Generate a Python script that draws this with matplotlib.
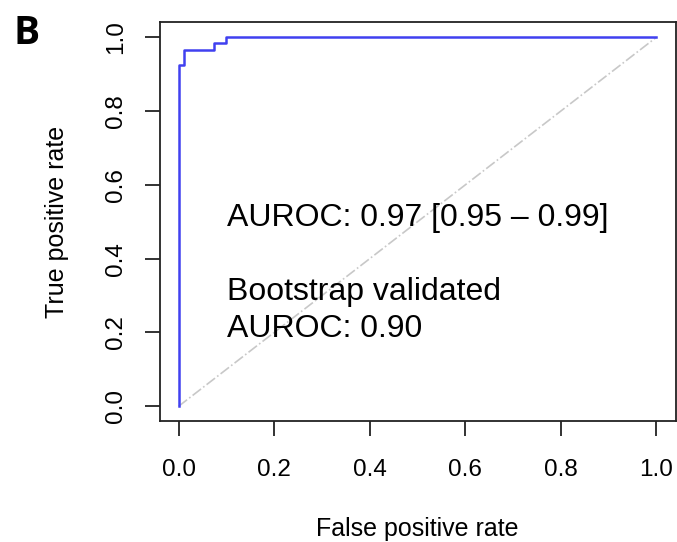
import matplotlib
matplotlib.use("Agg")
import matplotlib.pyplot as plt

plt.rcParams['font.family'] = ['Liberation Sans', 'DejaVu Sans']

# puntos de la curva ROC
fpr = [0.0, 0.0, 0.012, 0.012, 0.075, 0.075, 0.10, 0.10, 1.0]
tpr = [0.0, 0.926, 0.926, 0.965, 0.965, 0.984, 0.984, 1.0, 1.0]
# diagonal de referencia
diag_x = [0.0, 1.0]
diag_y = [0.0, 1.0]
ticks = [0.0, 0.2, 0.4, 0.6, 0.8, 1.0]
tick_labels = ["0.0", "0.2", "0.4", "0.6", "0.8", "1.0"]

fig = plt.figure(figsize=(6.77, 5.42), dpi=100)
ax = fig.add_axes([0.2356, 0.2232, 0.7622, 0.7353])

ax.plot(diag_x, diag_y, color="#c8c8c8", linestyle="-.", linewidth=1.2)
ax.plot(fpr, tpr, color="#4040f0", linewidth=1.8)

ax.set_xlim(-0.04, 1.04)
ax.set_ylim(-0.04, 1.04)
ax.set_xticks(ticks)
ax.set_xticklabels(tick_labels, fontsize=17.5)
ax.set_yticks(ticks)
ax.set_yticklabels(tick_labels, fontsize=17.5, rotation=90, va="center")
ax.tick_params(length=10.5, width=1.3, color="#222222")
ax.tick_params(axis="x", pad=16.5)
ax.tick_params(axis="y", pad=13)
for s in ax.spines.values():
    s.set_linewidth(1.3)
    s.set_color("#222222")

ax.set_xlabel("False positive rate", fontsize=18, labelpad=26)
ax.set_ylabel("True positive rate", fontsize=18, labelpad=26)

ax.text(0.102, 0.509, "AUROC: 0.97 [0.95 \u2013 0.99]", fontsize=23, va="center")
ax.text(0.102, 0.309, "Bootstrap validated", fontsize=23, va="center")
ax.text(0.102, 0.21, "AUROC: 0.90", fontsize=23, va="center")

fig.text(0.020, 0.918, "B", fontsize=28, fontweight="bold", family="Open Sans")

fig.savefig("out.png", dpi=100)
